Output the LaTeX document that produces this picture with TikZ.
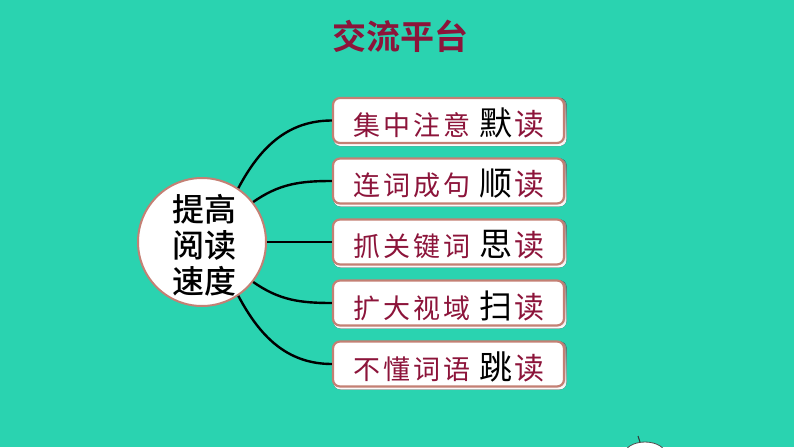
\documentclass[tikz,border=0pt]{standalone}
\usepackage{fontspec}
\setmainfont{Liberation Sans}
\newfontfamily\cjk{Noto Sans CJK SC}
\newfontfamily\cjkb{Noto Sans CJK SC Bold}
\newfontfamily\cjkm{Noto Sans CJK SC Medium}
\newfontfamily\cjksp{Noto Sans CJK SC}[LetterSpace=12]
\definecolor{bg}{RGB}{42,211,176}
\definecolor{maroon}{RGB}{140,20,58}
\definecolor{rim}{RGB}{196,128,116}
\definecolor{shade}{RGB}{34,180,150}
\tikzset{
  itembox/.style={draw=rim, line width=2.2pt, fill=white, rounded corners=7pt,
    minimum width=231pt, minimum height=45pt, inner sep=0pt},
  link/.style={draw=black, line width=2.4pt},
  hub/.style={circle, draw=rim, line width=2pt, fill=white, minimum size=128pt, inner sep=0pt}
}
\newcommand{\itemtext}[2]{{\cjksp\fontsize{27}{30}\selectfont\color{maroon}#1}\hspace{9pt}{\cjk\fontsize{33}{34}\selectfont\color{black}#2}\hspace{2pt}{\cjk\fontsize{30}{32}\selectfont\color{maroon}读}}
\begin{document}
\begin{tikzpicture}[x=1pt,y=-1pt]
\fill[bg] (0,0) rectangle (794,447);
\useasboundingbox (0,0) rectangle (794,447);
\node[text=maroon, font=\cjkb\fontsize{34}{36}\selectfont] (title) at (400,36) {交流平台};
% shadows
\foreach \y in {120.5,181,242,303,364}{
  \fill[shade, rounded corners=7pt] (333.5,\y-22.5) rectangle (566.5,\y+25.5);
}
\node[itembox] (b1) at (448.5,120.5) {};
\node[itembox] (b2) at (448.5,181) {};
\node[itembox] (b3) at (448.5,242) {};
\node[itembox] (b4) at (448.5,303) {};
\node[itembox] (b5) at (448.5,364) {};
\node (t1) at (449,123) {\itemtext{集中注意}{默}};
\node (t2) at (449,184) {\itemtext{连词成句}{顺}};
\node (t3) at (449,245) {\itemtext{抓关键词}{思}};
\node (t4) at (449,306) {\itemtext{扩大视域}{扫}};
\node (t5) at (449,367) {\itemtext{不懂词语}{跳}};
\node[hub] (hub) at (202,242) {};
\draw[link] (hub.56) to[out=62,in=180] (b1.west);
\draw[link] (hub.38) to[out=35,in=180] (b2.west);
\draw[link] (hub.east) -- (b3.west);
\draw[link] (hub.-38) to[out=-35,in=180] (b4.west);
\draw[link] (hub.-56) to[out=-62,in=180] (b5.west);
\node[font=\cjkm\fontsize{32}{36}\selectfont, align=center, inner sep=0pt] (hubtext) at (204,245) {提高\\阅读\\速度};
% partial icon at the bottom
\draw[fill=white, draw=black!70, line width=0.8pt] (645,455) ellipse (21pt and 13pt);
\draw[black!80, line width=1pt] (640,442) .. controls (639,439) .. (638,436);
\end{tikzpicture}
\end{document}
